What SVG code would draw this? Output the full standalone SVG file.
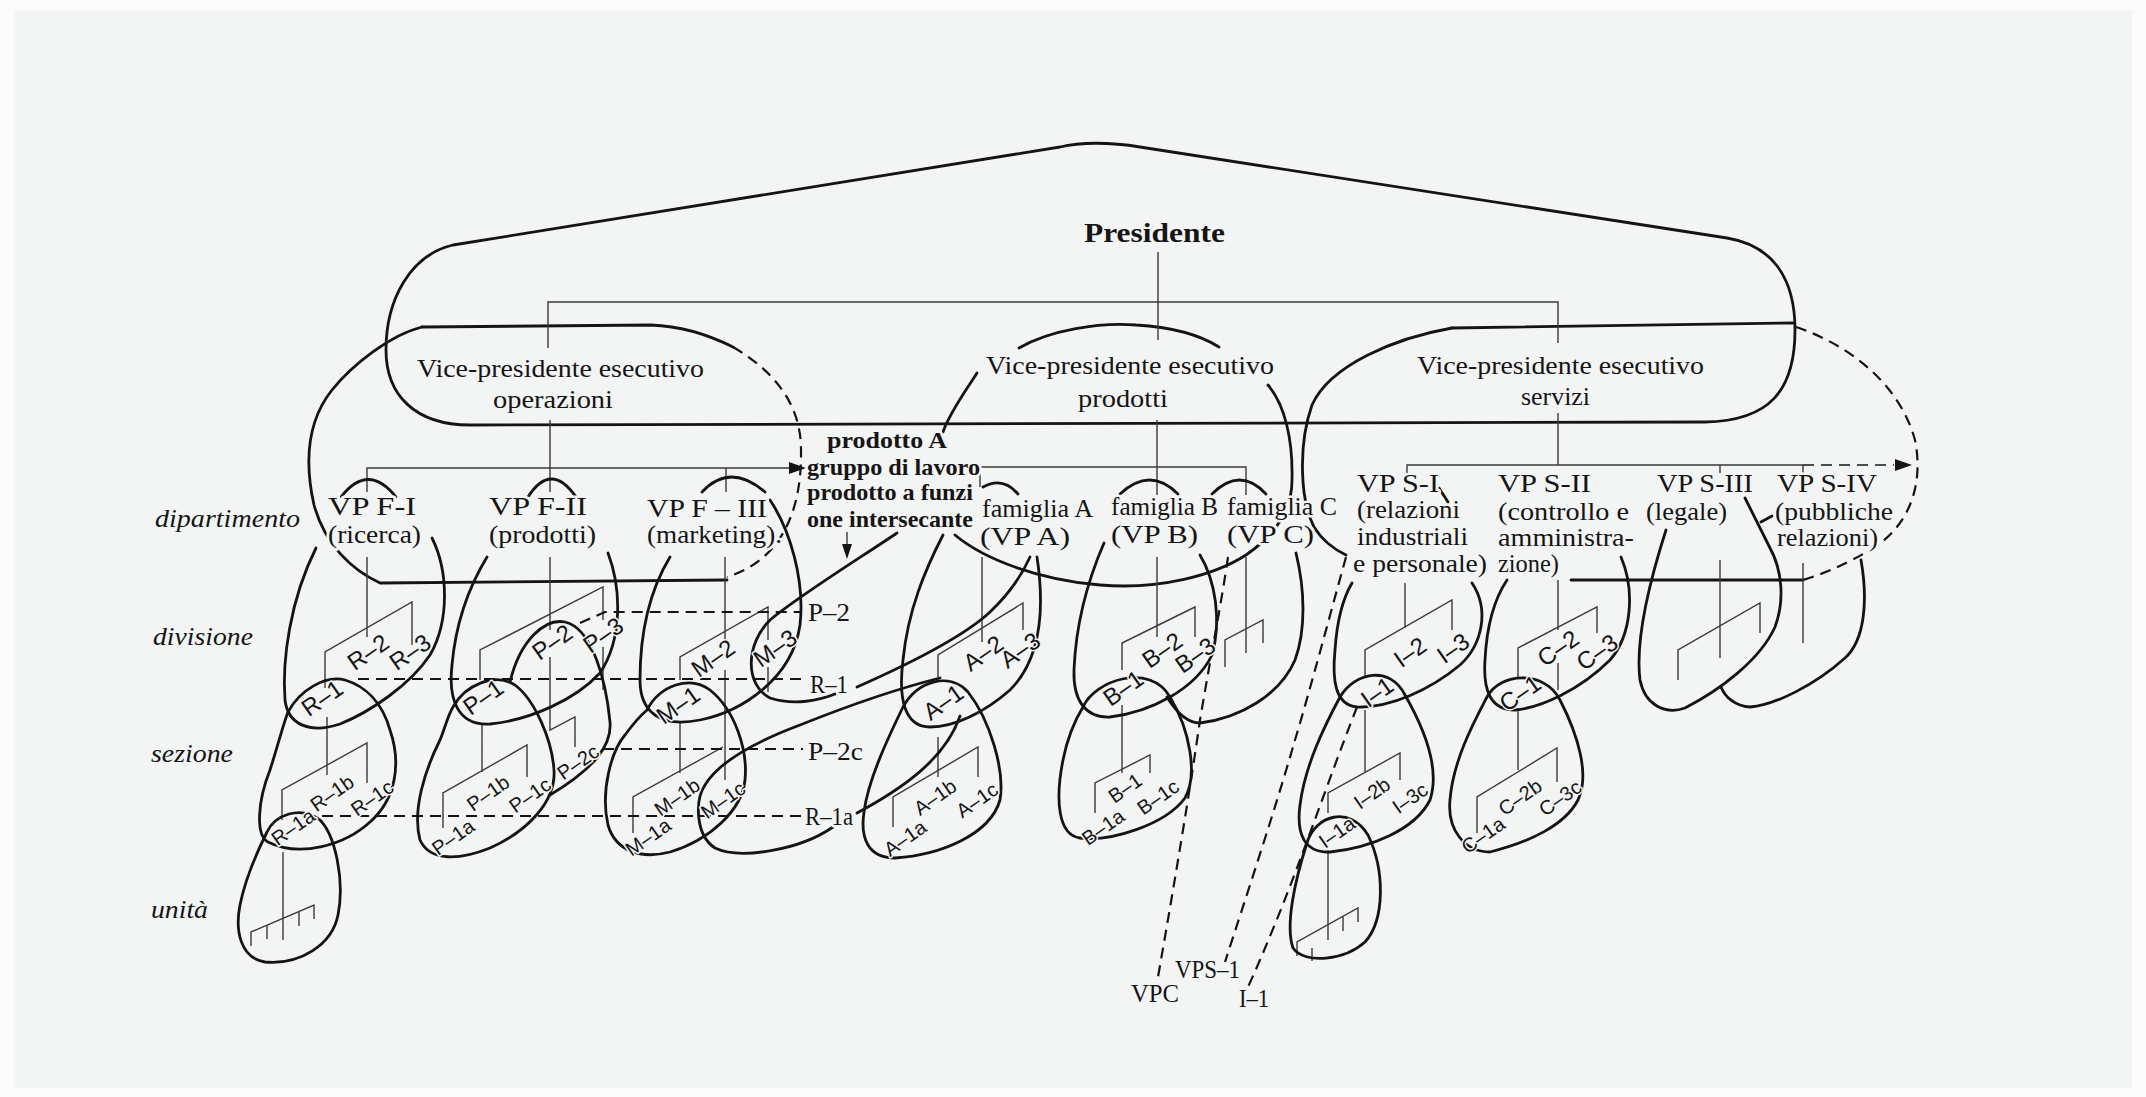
<svg xmlns="http://www.w3.org/2000/svg" width="2146" height="1097" viewBox="0 0 2146 1097">
<style>
.bl{fill:none;stroke:#141414;stroke-width:2.8;stroke-linecap:round;stroke-linejoin:round}
.ds{fill:none;stroke:#141414;stroke-width:2.2;stroke-dasharray:11 7}
.og{fill:none;stroke:#3a3a3a;stroke-width:1.4}
.ah{fill:#141414}
text{fill:#151515;paint-order:stroke;stroke:#f3f4f4;stroke-width:5;stroke-linejoin:round}
.sf{font-family:"Liberation Serif","Times New Roman",serif;font-size:25px}
.it{font-family:"Liberation Serif","Times New Roman",serif;font-style:italic;font-size:25px}
.bd{font-family:"Liberation Serif","Times New Roman",serif;font-weight:bold;font-size:23px}
.dv{font-family:"Liberation Sans",Arial,sans-serif;font-size:24px;text-anchor:middle;dominant-baseline:central;stroke-width:3}
.sc{font-family:"Liberation Sans",Arial,sans-serif;font-size:20px;text-anchor:middle;dominant-baseline:central;stroke-width:3}
</style>
<rect width="2146" height="1097" fill="#fbfbfb"/>
<rect x="14" y="10" width="2118" height="1078" fill="#f3f4f4"/>

<!-- level captions -->
<g id="levels">
<text class="it" x="155" y="527" textLength="145" lengthAdjust="spacingAndGlyphs">dipartimento</text>
<text class="it" x="153" y="645" textLength="100" lengthAdjust="spacingAndGlyphs">divisione</text>
<text class="it" x="151" y="762" textLength="82" lengthAdjust="spacingAndGlyphs">sezione</text>
<text class="it" x="151" y="918" textLength="57" lengthAdjust="spacingAndGlyphs">unità</text>
</g>

<!-- president and executive VPs -->
<g id="presidente">
<path class="bl" d="M470,425 L1705,422 C1770,421 1795,390 1795,330 C1795,275 1770,245 1727,238 L1140,147 C1110,142 1080,142 1060,147 L453,245 C410,255 386,300 386,350 C386,395 415,425 470,425 Z"/>
<text class="bd" x="1084" y="242" style="font-size:27px" textLength="141" lengthAdjust="spacingAndGlyphs">Presidente</text>
</g>

<g id="vp-operazioni">
<path class="bl" d="M422,327 L651,325 C680,326 705,333 733,347"/>
<path class="ds" d="M733,347 C772,370 801,402 801,450 C802,510 782,560 727,577"/>
<path class="bl" d="M727,580 L380,583 C352,570 325,545 314,505 C304,460 308,420 332,390 C352,365 390,335 422,327"/>
<text class="sf" x="417" y="377" textLength="287" lengthAdjust="spacingAndGlyphs">Vice-presidente esecutivo</text>
<text class="sf" x="493" y="408" textLength="120" lengthAdjust="spacingAndGlyphs">operazioni</text>
</g>

<g id="vp-prodotti">
<path class="bl" d="M1019,348 C1050,330 1100,322 1136,325 C1170,327 1200,335 1219,347"/>
<path class="bl" d="M977,373 C965,392 950,412 943,432"/>
<path class="bl" d="M955,535 C985,560 1040,580 1100,585 C1160,590 1215,575 1246,555 C1275,535 1292,510 1292,480 C1293,440 1285,405 1268,385"/>
<text class="sf" x="986" y="374" textLength="288" lengthAdjust="spacingAndGlyphs">Vice-presidente esecutivo</text>
<text class="sf" x="1078" y="407" textLength="90" lengthAdjust="spacingAndGlyphs">prodotti</text>
</g>

<g id="vp-servizi">
<path class="bl" d="M1452,328 L1793,323"/>
<path class="bl" d="M1452,328 C1395,338 1330,365 1312,405 C1298,445 1300,500 1314,527 C1322,540 1335,550 1346,555"/>
<path class="ds" d="M1796,327 C1850,345 1900,385 1915,440 C1925,490 1905,530 1870,550 C1845,565 1820,575 1803,580"/>
<path class="bl" d="M1571,580 L1803,580"/>
<text class="sf" x="1417" y="374" textLength="287" lengthAdjust="spacingAndGlyphs">Vice-presidente esecutivo</text>
<text class="sf" x="1521" y="405" textLength="69" lengthAdjust="spacingAndGlyphs">servizi</text>
</g>

<!-- connectors: reporting lines, buses, cross links -->
<g id="connectors">
<path class="og" d="M1158,252 V340 M548,348 V302 H1558 V343 M550,420 V492 M1157,420 V495 M1558,413 V465"/>
<path class="og" d="M367,492 V468 H790 M726,468 V492"/>
<polygon class="ah" points="806,468 789,462 789,474"/>
<path class="og" d="M980,487 V467 H1246 V495"/>
<path class="og" d="M1407,487 V465 H1803 M1720,465 V473 M1803,465 V485"/>
<path class="ds" d="M1803,465 H1894" style="stroke-width:1.6"/>
<polygon class="ah" points="1912,465 1895,459 1895,471"/>
<path class="og" d="M847,532 V545"/>
<polygon class="ah" points="847,559 842,544 852,544"/>
<!-- ricerca tree -->
<path class="og" d="M367,557 V637 M325,688 V652 L412,602 V645 M327,717 V775 M282,820 V790 L367,743 V783 M283,852 V940"/>
<path class="og" d="M251,946 V932 L314,905 V919 M267,925 V939 M299,912 V926"/>
<!-- prodotti tree -->
<path class="og" d="M550,557 V630 M550,657 V730 L575,717 V747 M480,680 V650 L603,587 V620 M603,647 V690 M482,723 V772 M443,828 V793 L527,745 V777"/>
<!-- marketing tree -->
<path class="og" d="M725,557 V643 M725,670 V780 M680,680 V657 L768,607 V640 M768,667 V692 M680,723 V773 M633,833 V797 L723,747"/>
<!-- famiglia A tree -->
<path class="og" d="M982,557 V642 M938,677 V655 L1023,603 V630 M938,737 V777 M893,827 V797 L978,747 V777"/>
<!-- famiglia B / C trees -->
<path class="og" d="M1157,557 V637 M1122,670 V643 L1195,607 V637 M1122,705 V773 M1095,813 V783 L1150,755 V773"/>
<path class="og" d="M1246,557 V653 M1225,667 V640 L1263,620 V643"/>
<!-- S-I tree -->
<path class="og" d="M1405,583 V628 M1365,677 V650 L1452,600 V630 M1365,710 V773 M1328,813 V793 L1400,753 V780 M1328,850 V940"/>
<path class="og" d="M1297,956 V942 L1358,908 V922 M1312,948 V961 M1343,917 V931"/>
<!-- S-II tree -->
<path class="og" d="M1558,580 V630 M1558,663 V690 M1518,677 V648 L1597,607 V633 M1518,710 V770 M1477,833 V797 L1557,748 V782"/>
<!-- S-III / S-IV -->
<path class="og" d="M1720,560 V658 M1678,680 V650 L1760,603 V633 M1803,563 V643"/>
<!-- cross-functional dashed links -->
<path class="ds" d="M580,623 L605,612 H802"/>
<path class="ds" d="M358,679 H807"/>
<path class="ds" d="M603,749 H803"/>
<path class="ds" d="M322,816 H802"/>
<path class="ds" d="M1228,557 C1222,600 1210,660 1200,720 C1190,790 1175,880 1158,977"/>
<path class="ds" d="M1346,557 C1330,615 1310,690 1295,740 C1275,810 1245,900 1225,962"/>
<path class="ds" d="M1357,707 C1340,750 1315,820 1300,860 C1285,900 1265,950 1248,987"/>
</g>

<!-- departments of operazioni -->
<g id="dip-ricerca">
<path class="bl" d="M341,497 Q368,462 396,497"/>
<path class="bl" d="M432,538 C448,570 450,620 430,655 C410,685 370,712 340,724 C310,734 288,725 285,700 C282,660 290,600 316,548"/>
<text class="sf" x="328" y="515" textLength="88" lengthAdjust="spacingAndGlyphs">VP  F-I</text>
<text class="sf" x="328" y="543" textLength="93" lengthAdjust="spacingAndGlyphs">(ricerca)</text>
</g>
<g id="div-R1">
<path class="bl" d="M288,712 C300,690 325,675 345,680 C365,686 382,702 390,730 C402,765 395,800 370,822 C345,845 300,858 268,842 C255,835 258,800 270,770 C278,745 283,725 288,712 Z"/>
</g>
<g id="sez-R1a">
<path class="bl" d="M267,832 C275,815 300,805 320,820 C335,835 345,880 338,915 C332,945 300,965 265,962 C240,958 235,930 240,905 C245,880 258,850 267,832 Z"/>
</g>

<g id="dip-prodotti">
<path class="bl" d="M528,497 Q551,461 576,497"/>
<path class="bl" d="M608,553 C622,590 622,640 600,673 C575,700 530,720 490,724 C458,726 448,700 452,665 C456,620 470,585 487,557"/>
<text class="sf" x="489" y="515" textLength="98" lengthAdjust="spacingAndGlyphs">VP  F-II</text>
<text class="sf" x="489" y="543" textLength="107" lengthAdjust="spacingAndGlyphs">(prodotti)</text>
</g>
<g id="div-P1">
<path class="bl" d="M453,707 C465,685 495,672 515,685 C535,700 552,740 554,770 C556,800 530,830 490,848 C460,860 430,862 420,840 C412,810 425,770 440,740 C445,728 448,715 453,707 Z"/>
</g>
<g id="div-P2">
<path class="bl" d="M510,682 C520,640 545,618 565,622 C592,628 606,680 610,722 C612,745 595,768 550,795"/>
</g>

<g id="dip-marketing">
<path class="bl" d="M702,492 Q730,462 765,492"/>
<path class="bl" d="M770,500 C790,530 805,580 800,625 C792,680 740,712 700,720 C660,728 640,712 640,680 C640,630 650,590 670,557"/>
<text class="sf" x="647" y="517" textLength="120" lengthAdjust="spacingAndGlyphs">VP  F – III</text>
<text class="sf" x="647" y="543" textLength="135" lengthAdjust="spacingAndGlyphs">(marketing).</text>
</g>
<g id="div-M1">
<path class="bl" d="M647,710 C660,685 690,675 710,690 C735,710 748,750 745,780 C742,810 710,840 670,852 C640,860 615,850 608,825 C600,790 612,750 625,735 C633,724 640,716 647,710 Z"/>
</g>

<!-- cross-functional product A team -->
<g id="gruppo-prodotto-A">
<path class="bl" d="M897,533 C860,558 800,595 770,620 C745,645 745,685 770,698 C795,706 820,700 835,694"/>
<path class="bl" d="M857,687 C900,668 960,640 990,612 C1010,593 1022,575 1030,557"/>
<path class="bl" d="M833,827 C800,850 740,860 715,848 C695,835 695,800 705,785 C720,760 760,740 800,725 C850,705 900,688 940,678"/>
<path class="bl" d="M857,813 C900,790 945,760 960,716"/>
<text class="bd" x="827" y="448" textLength="120" lengthAdjust="spacingAndGlyphs">prodotto  A</text>
<text class="bd" x="807" y="475" textLength="173" lengthAdjust="spacingAndGlyphs">gruppo di lavoro</text>
<text class="bd" x="807" y="500" textLength="166" lengthAdjust="spacingAndGlyphs">prodotto a funzi</text>
<text class="bd" x="807" y="527" textLength="166" lengthAdjust="spacingAndGlyphs">one intersecante</text>
<text class="sf" x="808" y="621" textLength="42" lengthAdjust="spacingAndGlyphs">P–2</text>
<text class="sf" x="810" y="693" textLength="38" lengthAdjust="spacingAndGlyphs">R–1</text>
<text class="sf" x="808" y="760" textLength="55" lengthAdjust="spacingAndGlyphs">P–2c</text>
<text class="sf" x="805" y="825" textLength="48" lengthAdjust="spacingAndGlyphs">R–1a</text>
</g>

<!-- product families -->
<g id="famiglia-A">
<path class="bl" d="M983,487 Q1003,476 1018,494"/>
<path class="bl" d="M1037,557 C1045,610 1040,660 1010,690 C985,712 955,727 930,727 C905,727 898,700 903,660 C908,610 925,570 943,535"/>
<text class="sf" x="982" y="517" textLength="111" lengthAdjust="spacingAndGlyphs">famiglia A</text>
<text class="sf" x="980" y="545" textLength="90" lengthAdjust="spacingAndGlyphs">(VP  A)</text>
</g>
<g id="div-A1">
<path class="bl" d="M903,707 C918,680 950,672 968,692 C990,720 1005,770 1000,800 C990,835 940,855 895,858 C868,858 860,838 864,812 C868,780 888,738 903,707 Z"/>
</g>
<g id="famiglia-B">
<path class="bl" d="M1120,494 Q1150,466 1178,494"/>
<path class="bl" d="M1200,555 C1215,580 1222,620 1212,655 C1195,690 1150,712 1110,717 C1085,718 1073,700 1074,670 C1076,620 1088,580 1104,543"/>
<text class="sf" x="1111" y="515" textLength="107" lengthAdjust="spacingAndGlyphs">famiglia B</text>
<text class="sf" x="1111" y="543" textLength="87" lengthAdjust="spacingAndGlyphs">(VP  B)</text>
</g>
<g id="div-B1">
<path class="bl" d="M1083,707 C1095,680 1150,662 1170,697 C1190,730 1198,775 1185,798 C1165,825 1110,842 1080,838 C1058,835 1055,800 1063,760 C1068,735 1075,720 1083,707 Z"/>
</g>
<g id="famiglia-C">
<path class="bl" d="M1212,494 Q1240,466 1266,494"/>
<path class="bl" d="M1296,553 C1305,590 1306,630 1295,660 C1280,695 1240,718 1200,723 C1188,723 1178,715 1167,697"/>
<text class="sf" x="1227" y="515" textLength="110" lengthAdjust="spacingAndGlyphs">famiglia C</text>
<text class="sf" x="1227" y="543" textLength="87" lengthAdjust="spacingAndGlyphs">(VP  C)</text>
</g>

<!-- service departments -->
<g id="dip-relazioni-industriali">
<path class="bl" d="M1439,488 L1448,502"/>
<path class="bl" d="M1472,583 C1490,610 1482,645 1460,665 C1430,690 1390,708 1357,707 C1335,705 1332,680 1335,650 C1337,620 1342,600 1352,583"/>
<text class="sf" x="1357" y="492" textLength="82" lengthAdjust="spacingAndGlyphs">VP  S-I</text>
<text class="sf" x="1357" y="518" textLength="103" lengthAdjust="spacingAndGlyphs">(relazioni</text>
<text class="sf" x="1357" y="545" textLength="111" lengthAdjust="spacingAndGlyphs">industriali</text>
<text class="sf" x="1353" y="572" textLength="134" lengthAdjust="spacingAndGlyphs">e personale)</text>
</g>
<g id="div-I1">
<path class="bl" d="M1340,697 C1355,672 1390,665 1405,695 C1425,730 1440,770 1430,800 C1415,830 1370,848 1330,852 C1305,853 1296,835 1300,805 C1305,765 1325,725 1340,697 Z"/>
</g>
<g id="sez-I1a">
<path class="bl" d="M1307,843 C1315,815 1350,805 1368,835 C1385,870 1385,920 1365,942 C1345,960 1305,965 1293,948 C1285,925 1295,880 1307,843 Z"/>
</g>
<g id="dip-controllo">
<path class="bl" d="M1621,557 C1635,590 1632,635 1610,660 C1580,690 1540,708 1515,710 C1490,710 1483,690 1485,660 C1487,620 1497,595 1507,580"/>
<text class="sf" x="1498" y="492" textLength="93" lengthAdjust="spacingAndGlyphs">VP  S-II</text>
<text class="sf" x="1498" y="520" textLength="131" lengthAdjust="spacingAndGlyphs">(controllo e</text>
<text class="sf" x="1498" y="546" textLength="136" lengthAdjust="spacingAndGlyphs">amministra-</text>
<text class="sf" x="1498" y="572" textLength="61" lengthAdjust="spacingAndGlyphs">zione)</text>
</g>
<g id="div-C1">
<path class="bl" d="M1487,697 C1500,672 1545,670 1560,700 C1578,735 1590,775 1578,800 C1565,825 1530,842 1490,852 C1465,852 1447,830 1450,800 C1453,760 1475,720 1487,697 Z"/>
</g>
<g id="dip-legale">
<path class="bl" d="M1666,530 C1650,580 1635,640 1640,680 C1645,705 1665,715 1685,708 C1720,690 1760,660 1775,627 C1785,600 1782,570 1770,548 L1745,498 M1761,522 L1772,516"/>
<text class="sf" x="1657" y="492" textLength="96" lengthAdjust="spacingAndGlyphs">VP S-III</text>
<text class="sf" x="1646" y="520" textLength="81" lengthAdjust="spacingAndGlyphs">(legale)</text>
</g>
<g id="dip-pubbliche-relazioni">
<path class="bl" d="M1861,560 C1868,600 1865,640 1845,658 C1815,685 1775,705 1750,707 C1735,706 1725,697 1721,687"/>
<text class="sf" x="1777" y="492" textLength="100" lengthAdjust="spacingAndGlyphs">VP  S-IV</text>
<text class="sf" x="1775" y="520" textLength="118" lengthAdjust="spacingAndGlyphs">(pubbliche</text>
<text class="sf" x="1777" y="546" textLength="101" lengthAdjust="spacingAndGlyphs">relazioni)</text>
</g>

<!-- division and section labels -->
<g id="labels">
<text class="dv" transform="translate(368 652) rotate(-35)">R–2</text>
<text class="dv" transform="translate(410 652) rotate(-35)">R–3</text>
<text class="dv" transform="translate(322 698) rotate(-35)">R–1</text>
<text class="sc" transform="translate(332 793) rotate(-35)">R–1b</text>
<text class="sc" transform="translate(372 798) rotate(-35)">R–1c</text>
<text class="sc" transform="translate(293 827) rotate(-35)">R–1a</text>
<text class="dv" transform="translate(483 697) rotate(-35)">P–1</text>
<text class="dv" transform="translate(552 642) rotate(-35)">P–2</text>
<text class="dv" transform="translate(603 635) rotate(-35)">P–3</text>
<text class="sc" transform="translate(488 793) rotate(-35)">P–1b</text>
<text class="sc" transform="translate(530 795) rotate(-35)">P–1c</text>
<text class="sc" transform="translate(578 762) rotate(-35)">P–2c</text>
<text class="sc" transform="translate(453 837) rotate(-35)">P–1a</text>
<text class="dv" transform="translate(713 658) rotate(-35)">M–2</text>
<text class="dv" transform="translate(775 648) rotate(-35)">M–3</text>
<text class="dv" transform="translate(678 705) rotate(-35)">M–1</text>
<text class="sc" transform="translate(677 797) rotate(-35)">M–1b</text>
<text class="sc" transform="translate(723 800) rotate(-35)">M–1c</text>
<text class="sc" transform="translate(648 837) rotate(-35)">M–1a</text>
<text class="dv" transform="translate(983 653) rotate(-35)">A–2</text>
<text class="dv" transform="translate(1020 650) rotate(-35)">A–3</text>
<text class="dv" transform="translate(943 702) rotate(-35)">A–1</text>
<text class="sc" transform="translate(935 797) rotate(-35)">A–1b</text>
<text class="sc" transform="translate(977 800) rotate(-35)">A–1c</text>
<text class="sc" transform="translate(905 838) rotate(-35)">A–1a</text>
<text class="dv" transform="translate(1162 650) rotate(-35)">B–2</text>
<text class="dv" transform="translate(1195 655) rotate(-35)">B–3</text>
<text class="dv" transform="translate(1123 688) rotate(-35)">B–1</text>
<text class="sc" transform="translate(1125 788) rotate(-35)">B–1</text>
<text class="sc" transform="translate(1158 797) rotate(-35)">B–1c</text>
<text class="sc" transform="translate(1103 827) rotate(-35)">B–1a</text>
<text class="dv" transform="translate(1410 652) rotate(-35)">I–2</text>
<text class="dv" transform="translate(1453 648) rotate(-35)">I–3</text>
<text class="dv" transform="translate(1377 692) rotate(-35)">I–1</text>
<text class="sc" transform="translate(1372 793) rotate(-35)">I–2b</text>
<text class="sc" transform="translate(1410 798) rotate(-35)">I–3c</text>
<text class="sc" transform="translate(1337 832) rotate(-35)">I–1a</text>
<text class="dv" transform="translate(1558 648) rotate(-35)">C–2</text>
<text class="dv" transform="translate(1597 652) rotate(-35)">C–3</text>
<text class="dv" transform="translate(1520 693) rotate(-35)">C–1</text>
<text class="sc" transform="translate(1520 797) rotate(-35)">C–2b</text>
<text class="sc" transform="translate(1560 798) rotate(-35)">C–3c</text>
<text class="sc" transform="translate(1483 835) rotate(-35)">C–1a</text>
<text class="sf" x="1131" y="1002" textLength="48" lengthAdjust="spacingAndGlyphs">VPC</text>
<text class="sf" x="1175" y="978" textLength="65" lengthAdjust="spacingAndGlyphs">VPS–1</text>
<text class="sf" x="1239" y="1007" textLength="30" lengthAdjust="spacingAndGlyphs">I–1</text>
</g>
</svg>
